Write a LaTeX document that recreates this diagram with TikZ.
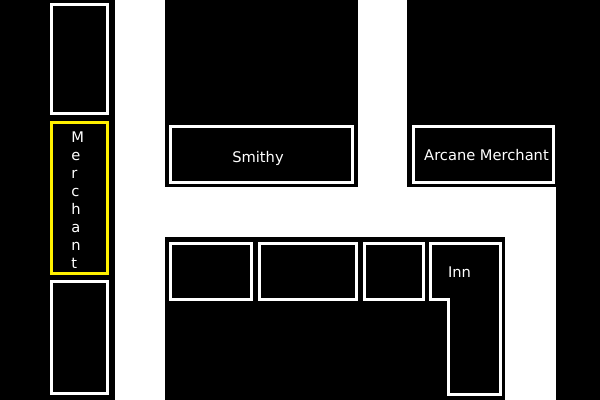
\documentclass[tikz,border=0pt]{standalone}
\usepackage{fontspec}
\setmainfont{DejaVu Sans}
\usepackage{xcolor}
\usetikzlibrary{positioning}
\definecolor{MerchY}{RGB}{255,240,0}
\def\px{0.75pt}
\tikzset{
  street/.style={fill=white,draw=none},
  lot/.style={draw=white,line width=3*\px,inner sep=0pt},
  tag/.style={text=white,inner sep=0pt,font=\fontsize{11pt}{13.5pt}\selectfont},
  stall/.style={lot,minimum width=56*\px},
  shop/.style={lot,minimum height=56*\px},
}
\begin{document}
\begin{tikzpicture}[x=0.75pt,y=-0.75pt]
  \useasboundingbox (0,0) rectangle (600,400);
  \fill[black] (0,0) rectangle (600,400);
  % streets
  \fill[street] (115,0) rectangle (165,400);
  \fill[street] (358,0) rectangle (407,237);
  \fill[street] (115,187) rectangle (556,237);
  \fill[street] (505,187) rectangle (556,400);
  % left column
  \node[stall,minimum height=109*\px] (stallA) at (79.5,59) {};
  \node[stall,draw=MerchY,minimum height=151*\px,below=6*\px of stallA] (merchant) {};
  \node[tag,align=left,anchor=north west] (merchantText) at (71,131.5)
    {M\\e\\r\\c\\h\\a\\n\\t};
  \node[stall,minimum height=112*\px,below=5*\px of merchant] (stallB) {};
  % top shops
  \node[shop,minimum width=182*\px] (smithy) at (261.5,154.5) {};
  \node[tag] (smithyText) at (258,158) {Smithy};
  \node[shop,minimum width=140*\px] (arcane) at (483.5,154.5) {};
  \node[tag] (arcaneText) at (486.5,155) {Arcane Merchant};
  % bottom row
  \node[shop,minimum width=81*\px] (houseA) at (211,271.5) {};
  \node[shop,minimum width=97*\px,right=5*\px of houseA] (houseB) {};
  \node[shop,minimum width=59*\px,right=5*\px of houseB] (houseC) {};
  \draw[draw=white,line width=3*\px] (430.5,243.5) -- (500.5,243.5) -- (500.5,394.5) -- (448.5,394.5)
    -- (448.5,299.5) -- (430.5,299.5) -- cycle;
  \node[tag] (inn) at (459.5,272) {Inn};
\end{tikzpicture}
\end{document}
